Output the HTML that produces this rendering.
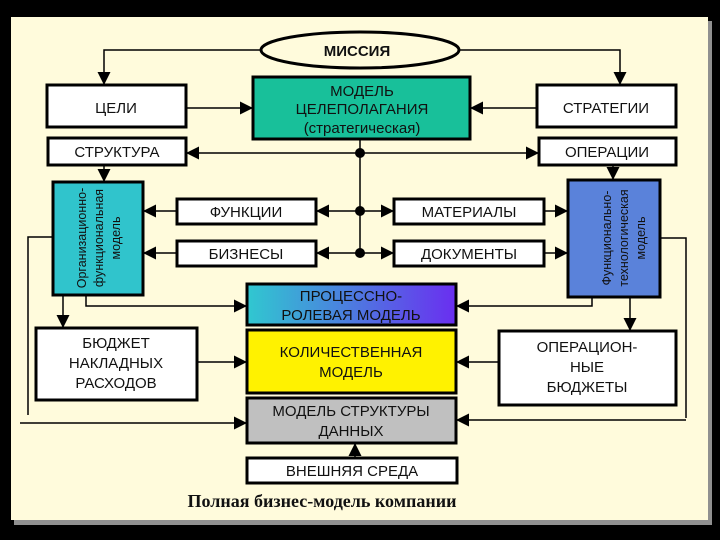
<!DOCTYPE html>
<html><head><meta charset="utf-8"><style>
html,body{margin:0;padding:0;background:#000;}
svg{display:block}
text{font-family:"Liberation Sans",sans-serif;font-size:15px;fill:#111;text-anchor:middle}
</style></head><body>
<svg width="720" height="540" viewBox="0 0 720 540" xmlns="http://www.w3.org/2000/svg">
<defs>
<marker id="a" viewBox="0 0 10 10" refX="10" refY="5" markerWidth="13" markerHeight="13" markerUnits="userSpaceOnUse" orient="auto"><path d="M0,0L10,5L0,10z" fill="#000"/></marker>
<linearGradient id="g" x1="0" x2="1"><stop offset="0" stop-color="#30c8d0"/><stop offset="1" stop-color="#6a2ef0"/></linearGradient>
</defs>
<rect width="720" height="540" fill="#000"/>
<rect x="14" y="21" width="698" height="504" fill="#909090"/>
<rect x="11" y="17" width="697" height="503" fill="#fffbdc"/>
<g stroke="#000" stroke-width="1.5" fill="none">
<path d="M260,50H104V85" marker-end="url(#a)"/>
<path d="M460,50H620V85" marker-end="url(#a)"/>
<path d="M186,108H253" marker-end="url(#a)"/>
<path d="M537,108H470" marker-end="url(#a)"/>
<path d="M360,139V253"/>
<path d="M360,153H186" marker-end="url(#a)"/>
<path d="M360,153H539" marker-end="url(#a)"/>
<path d="M104,165V182" marker-end="url(#a)"/>
<path d="M613,165V180" marker-end="url(#a)"/>
<path d="M360,211H316" marker-end="url(#a)"/>
<path d="M360,253H316" marker-end="url(#a)"/>
<path d="M177,211H143" marker-end="url(#a)"/>
<path d="M177,253H143" marker-end="url(#a)"/>
<path d="M360,211H394" marker-end="url(#a)"/>
<path d="M360,253H394" marker-end="url(#a)"/>
<path d="M544,211H568" marker-end="url(#a)"/>
<path d="M544,253H568" marker-end="url(#a)"/>
<path d="M53,237H28V415"/>
<path d="M20,423H247" marker-end="url(#a)"/>
<path d="M660,238H686V418"/>
<path d="M686,420H456" marker-end="url(#a)"/>
<path d="M63,295V328" marker-end="url(#a)"/>
<path d="M86,295V306H247" marker-end="url(#a)"/>
<path d="M592,297V306H456" marker-end="url(#a)"/>
<path d="M630,297V331" marker-end="url(#a)"/>
<path d="M197,362H247" marker-end="url(#a)"/>
<path d="M499,362H456" marker-end="url(#a)"/>
<path d="M355,458V443" marker-end="url(#a)"/>
</g>
<circle cx="360" cy="153" r="5"/><circle cx="360" cy="211" r="5"/><circle cx="360" cy="253" r="5"/>
<g stroke="#000" stroke-width="3">
<ellipse cx="360" cy="50" rx="99" ry="18" fill="#fffbdc"/>
<rect x="47" y="85" width="139" height="42" fill="#fff"/>
<rect x="253" y="77" width="217" height="62" fill="#18c09a"/>
<rect x="537" y="85" width="139" height="42" fill="#fff"/>
<rect x="48" y="138" width="138" height="27" fill="#fff"/>
<rect x="539" y="138" width="137" height="27" fill="#fff"/>
<rect x="53" y="182" width="90" height="113" fill="#30c4cc"/>
<rect x="568" y="180" width="92" height="117" fill="#5a82da"/>
<rect x="177" y="199" width="139" height="25" fill="#fff"/>
<rect x="177" y="241" width="139" height="25" fill="#fff"/>
<rect x="394" y="199" width="150" height="25" fill="#fff"/>
<rect x="394" y="241" width="150" height="25" fill="#fff"/>
<rect x="247" y="284" width="209" height="41" fill="url(#g)"/>
<rect x="247" y="330" width="209" height="63" fill="#fff200"/>
<rect x="247" y="398" width="209" height="45" fill="#c0c0c0"/>
<rect x="247" y="458" width="210" height="25" fill="#fff"/>
<rect x="36" y="328" width="161" height="72" fill="#fff"/>
<rect x="499" y="331" width="177" height="74" fill="#fff"/>
</g>
<text x="357" y="56" style="font-weight:bold">МИССИЯ</text>
<text x="116" y="113">ЦЕЛИ</text>
<text x="362" y="96">МОДЕЛЬ</text>
<text x="362" y="114">ЦЕЛЕПОЛАГАНИЯ</text>
<text x="362" y="133">(стратегическая)</text>
<text x="606" y="113">СТРАТЕГИИ</text>
<text x="117" y="157">СТРУКТУРА</text>
<text x="607" y="157">ОПЕРАЦИИ</text>
<text x="246" y="217">ФУНКЦИИ</text>
<text x="246" y="259">БИЗНЕСЫ</text>
<text x="469" y="217">МАТЕРИАЛЫ</text>
<text x="469" y="259">ДОКУМЕНТЫ</text>
<text transform="translate(86,238) rotate(-90)" style="font-size:12.5px">Организационно-</text>
<text transform="translate(103,238) rotate(-90)" style="font-size:12.5px">функциональная</text>
<text transform="translate(120,238) rotate(-90)" style="font-size:12.5px">модель</text>
<text transform="translate(611,238) rotate(-90)" style="font-size:12.5px">Функционально-</text>
<text transform="translate(628,238) rotate(-90)" style="font-size:12.5px">технологическая</text>
<text transform="translate(645,238) rotate(-90)" style="font-size:12.5px">модель</text>
<text x="351" y="301">ПРОЦЕССНО-</text>
<text x="351" y="320">РОЛЕВАЯ МОДЕЛЬ</text>
<text x="351" y="357">КОЛИЧЕСТВЕННАЯ</text>
<text x="351" y="377">МОДЕЛЬ</text>
<text x="351" y="416">МОДЕЛЬ СТРУКТУРЫ</text>
<text x="351" y="436">ДАННЫХ</text>
<text x="352" y="476">ВНЕШНЯЯ СРЕДА</text>
<text x="116" y="348">БЮДЖЕТ</text>
<text x="116" y="368">НАКЛАДНЫХ</text>
<text x="116" y="388">РАСХОДОВ</text>
<text x="587" y="352">ОПЕРАЦИОН-</text>
<text x="587" y="372">НЫЕ</text>
<text x="587" y="392">БЮДЖЕТЫ</text>
<text x="322" y="507" style="font-family:'Liberation Serif',serif;font-weight:bold;font-size:18px">Полная бизнес-модель компании</text>
</svg>
</body></html>
